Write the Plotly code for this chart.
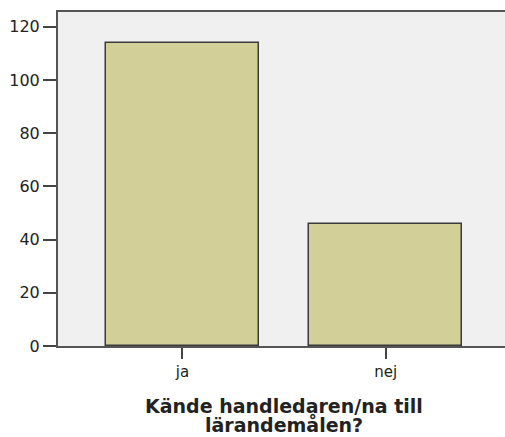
import plotly.graph_objects as go

# Data
categories = ["ja", "nej"]
counts = [114, 46]
y_ticks = [0, 20, 40, 60, 80, 100, 120]
title_lines = ["Kände handledaren/na till", "lärandemålen?"]

fig = go.Figure()

fig.add_trace(go.Bar(
    x=categories,
    y=counts,
    width=0.753,
    marker=dict(color="#d3cf98", line=dict(color="#3a3a3a", width=1.5)),
    hoverinfo="x+y",
))

fig.update_layout(
    width=505,
    height=437,
    margin=dict(l=58, r=0, t=12, b=91),
    paper_bgcolor="white",
    plot_bgcolor="#f0f0f0",
    font=dict(family="DejaVu Sans", size=14, color="#222"),
    showlegend=False,
    bargap=0,
)

# two-line axis title, placed line by line to keep the tight spacing
for line, ypos in zip(title_lines, [-0.181, -0.2365]):
    fig.add_annotation(
        text="<b>%s</b>" % line,
        xref="paper", yref="paper",
        x=0.505, y=ypos, xanchor="center", yanchor="middle",
        showarrow=False,
        font=dict(size=19, color="#222"),
    )

fig.update_xaxes(
    range=[-0.6125, 1.587],
    showline=True, linecolor="#555", linewidth=2, mirror=True,
    ticks="outside", ticklen=11, tickwidth=1.5, tickcolor="#444",
    showgrid=False, tickfont=dict(size=15),
)

fig.update_yaxes(
    range=[0, 125.6],
    tickvals=y_ticks,
    showline=True, linecolor="#555", linewidth=2,
    ticks="outside", ticklen=13, tickwidth=1.5, tickcolor="#444",
    showgrid=False, zeroline=False, tickfont=dict(size=16),
)

fig.write_html("out.html", config={"displayModeBar": False},
               post_script="document.body.style.margin='0';")
